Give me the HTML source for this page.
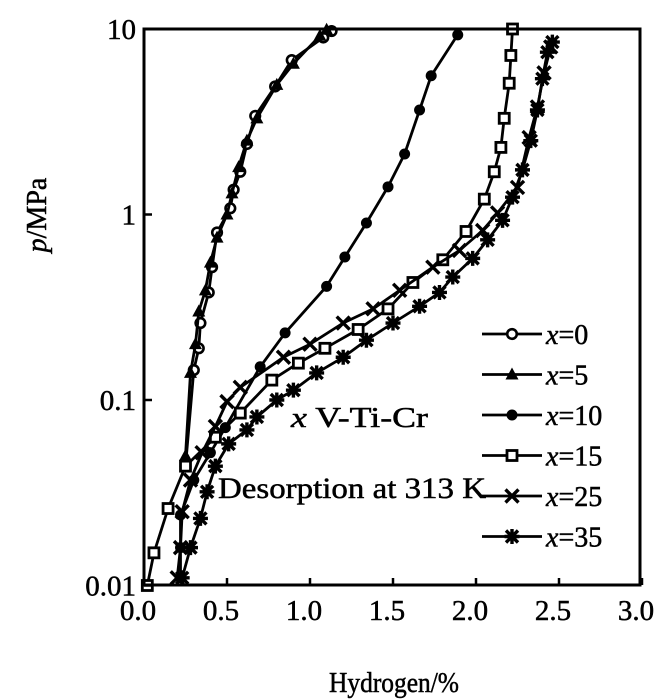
<!DOCTYPE html>
<html><head><meta charset="utf-8"><style>
html,body{margin:0;padding:0;background:#fff;}
svg{display:block;font-family:"Liberation Serif",serif;}
svg text{stroke:#000;stroke-width:0.5;}
</style></head><body>
<svg id="chart" width="664" height="699" viewBox="0 0 664 699" xmlns="http://www.w3.org/2000/svg">
<rect width="664" height="699" fill="#fff"/>
<g id="marks"></g>
<rect x="144" y="29" width="496" height="556" fill="none" stroke="#000" stroke-width="3"/>
<g id="axes"></g>
<text transform="translate(46,215) rotate(-90)" text-anchor="middle" font-size="28"><tspan font-style="italic">p</tspan>/MPa</text>
<text x="394" y="692" text-anchor="middle" font-size="28" textLength="130" lengthAdjust="spacingAndGlyphs">Hydrogen/%</text>
<text x="291" y="427" font-size="28" textLength="137" lengthAdjust="spacingAndGlyphs"><tspan font-style="italic">x</tspan> V-Ti-Cr</text>
<text x="218" y="498" font-size="30" textLength="268" lengthAdjust="spacingAndGlyphs">Desorption at 313 K</text>
<g id="legend"></g>
</svg>
<script>
const xTicks = [0, 0.5, 1.0, 1.5, 2.0, 2.5, 3.0];
const xTickLabels = ["0.0", "0.5", "1.0", "1.5", "2.0", "2.5", "3.0"];
const yTicks = [10, 1, 0.1, 0.01];
const yTickLabels = ["10", "1", "0.1", "0.01"];
const seriesNames = ["x=0", "x=5", "x=10", "x=15", "x=25", "x=35"];
const seriesMarkers = ["circle-open", "triangle", "circle", "square", "cross", "star"];
const h0 = [1.13,1.08,0.89,0.79,0.67,0.62,0.58,0.54,0.52,0.44,0.41,0.39,0.34,0.33,0.30,0.25];
const p0 = [9.75,9.0,6.8,4.9,3.4,2.4,1.7,1.36,1.08,0.8,0.52,0.38,0.26,0.19,0.145,0.044];
const h5 = [1.10,1.06,0.90,0.80,0.68,0.62,0.57,0.53,0.50,0.44,0.40,0.37,0.33,0.31,0.28,0.25];
const p5 = [9.9,9.2,6.5,5.0,3.3,2.5,1.8,1.3,1.0,0.75,0.55,0.39,0.30,0.20,0.14,0.050];
const h10 = [1.89,1.73,1.66,1.57,1.47,1.34,1.21,1.10,0.85,0.70,0.49,0.40,0.30,0.22,0.22,0.22];
const p10 = [9.3,5.6,3.66,2.12,1.41,0.90,0.59,0.41,0.23,0.151,0.071,0.052,0.037,0.024,0.016,0.011];
const h15 = [2.22,2.21,2.20,2.17,2.15,2.11,2.05,1.94,1.80,1.62,1.47,1.29,1.09,0.93,0.77,0.58,0.43,0.25,0.145,0.06,0.02];
const p15 = [10,7.2,5.1,3.3,2.3,1.7,1.21,0.81,0.57,0.43,0.31,0.24,0.19,0.158,0.128,0.085,0.063,0.044,0.026,0.015,0.01];
const h25 = [2.45,2.41,2.37,2.32,2.25,2.13,2.04,1.90,1.74,1.54,1.38,1.20,1.00,0.84,0.58,0.50,0.43,0.35,0.28,0.23,0.22,0.20];
const p25 = [8.0,5.8,3.8,2.6,1.4,1.02,0.82,0.64,0.52,0.39,0.31,0.26,0.20,0.17,0.117,0.098,0.072,0.052,0.037,0.025,0.016,0.011];
const h35 = [2.46,2.43,2.40,2.37,2.33,2.28,2.22,2.16,2.07,1.98,1.86,1.78,1.66,1.50,1.34,1.20,1.04,0.90,0.80,0.68,0.62,0.51,0.43,0.38,0.34,0.28,0.23];
const p35 = [8.5,7.5,5.4,3.66,2.5,1.74,1.24,0.93,0.73,0.58,0.46,0.38,0.32,0.26,0.21,0.17,0.14,0.113,0.10,0.081,0.069,0.058,0.044,0.032,0.023,0.016,0.011];

const NS = "http://www.w3.org/2000/svg";
const X0 = 144, XS = 166, Y0 = 29, YS = 185.5;
function xScale(v){ return X0 + v * XS; }
function yScale(p){ return Y0 + (1 - Math.log10(p)) * YS; }
function mk(tag, attrs, parent){ const e = document.createElementNS(NS, tag); for (const k in attrs) e.setAttribute(k, attrs[k]); parent.appendChild(e); return e; }

function drawMarker(g, type, cx, cy){
  let e;
  if (type === "circle-open") e = mk("circle", {cx:cx, cy:cy, r:4.8, fill:"#fff", stroke:"#000", "stroke-width":2.6}, g);
  else if (type === "circle") e = mk("circle", {cx:cx, cy:cy, r:5.5, fill:"#000"}, g);
  else if (type === "triangle") e = mk("polygon", {points:(cx)+","+(cy-7)+" "+(cx-6.5)+","+(cy+5)+" "+(cx+6.5)+","+(cy+5), fill:"#000"}, g);
  else if (type === "square") e = mk("rect", {x:cx-5, y:cy-5, width:10, height:10, fill:"#fff", stroke:"#000", "stroke-width":2.8}, g);
  else if (type === "cross") e = mk("path", {d:"M"+(cx-6.5)+" "+(cy-6.5)+"L"+(cx+6.5)+" "+(cy+6.5)+"M"+(cx+6.5)+" "+(cy-6.5)+"L"+(cx-6.5)+" "+(cy+6.5), stroke:"#000", "stroke-width":3.4}, g);
  else e = mk("path", {d:"M"+(cx-6)+" "+(cy-6)+"L"+(cx+6)+" "+(cy+6)+"M"+(cx+6)+" "+(cy-6)+"L"+(cx-6)+" "+(cy+6)+"M"+(cx)+" "+(cy-7.5)+"L"+(cx)+" "+(cy+7.5)+"M"+(cx-7.5)+" "+(cy)+"L"+(cx+7.5)+" "+(cy), stroke:"#000", "stroke-width":3.4}, g);
  return e;
}

const allH = [h0, h5, h10, h15, h25, h35];
const allP = [p0, p5, p10, p15, p25, p35];
const marks = document.getElementById("marks");
for (let s = 0; s < allH.length; s++){
  const g = mk("g", {}, marks);
  
  
  const pts = allH[s].map((h, i) => xScale(h).toFixed(1) + "," + yScale(allP[s][i]).toFixed(1)).join(" ");
  const line = mk("polyline", {points:pts, fill:"none", stroke:"#000", "stroke-width":2.8, "stroke-linejoin":"round"}, g);
  
  
  for (let i = 0; i < allH[s].length; i++){
    const m = drawMarker(g, seriesMarkers[s], xScale(allH[s][i]), yScale(allP[s][i]));
    
    
  }
}

const axes = document.getElementById("axes");
for (let i = 0; i < xTicks.length; i++){
  const x = xScale(xTicks[i]);
  const t = mk("line", {x1:x, y1:585, x2:x, y2:578, stroke:"#000", "stroke-width":2.5}, axes);
  
  
  const lb = mk("text", {x:x - 6, y:620, "text-anchor":"middle", "font-size":29}, axes);
  lb.textContent = xTickLabels[i];
  
  
}
for (let i = 0; i < yTicks.length; i++){
  const y = yScale(yTicks[i]);
  const t = mk("line", {x1:144, y1:y, x2:152, y2:y, stroke:"#000", "stroke-width":2.5}, axes);
  
  
  const lb = mk("text", {x:136, y:y + 10, "text-anchor":"end", "font-size":29}, axes);
  lb.textContent = yTickLabels[i];
  
  
}

const legend = document.getElementById("legend");
for (let s = 0; s < seriesNames.length; s++){
  const y = 334 + s * 40.5;
  const g = mk("g", {}, legend);
  
  
  mk("line", {x1:482, y1:y, x2:542, y2:y, stroke:"#000", "stroke-width":2.8}, g);
  drawMarker(g, seriesMarkers[s], 512, y);
  const t = mk("text", {x:546, y:y + 10, "font-size":28}, g);
  const it = mk("tspan", {"font-style":"italic"}, t);
  it.textContent = "x";
  const rest = mk("tspan", {}, t);
  rest.textContent = "=" + seriesNames[s].split("=")[1];
}
</script>
</body></html>
